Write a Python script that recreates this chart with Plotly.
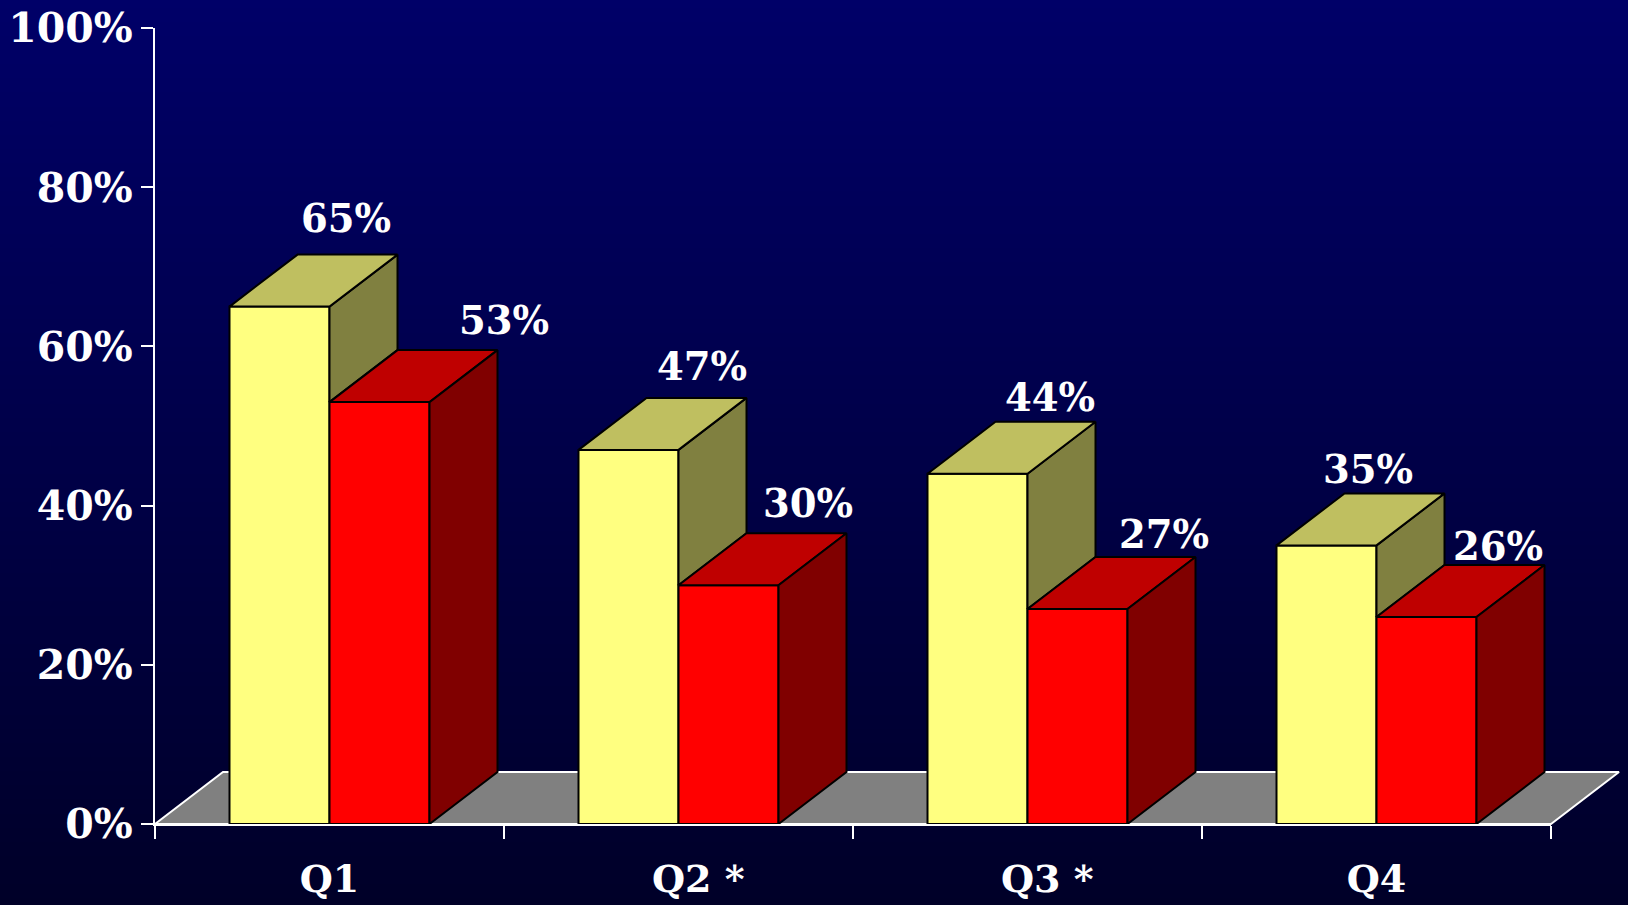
import plotly.graph_objects as go

# ---- data ----
categories = ["Q1", "Q2 *", "Q3 *", "Q4"]
yellow_values = [65, 47, 44, 35]
red_values = [53, 30, 27, 26]
y_ticks = [0, 20, 40, 60, 80, 100]
y_tick_labels = ["0%", "20%", "40%", "60%", "80%", "100%"]

# ---- layout geometry (px on the 1628x905 page) ----
W, H = 1628, 905
PL, PR, PT, PB = 155, 1551, 28, 824
UX = (PR - PL) / 4.0          # px per category
UY = (PB - PT) / 100.0        # px per percent
BAR = 100 / UX                # bar width, category units
DX = 68 / UX                  # 3-D depth, category units
DY = 52 / UY                  # 3-D depth, percent units
X0, X1 = -0.5, 3.5

# hand-placed label offsets from the front-top centre of each bar (px)
yellow_shift = [(66, 88), (73, 83), (72, 76), (41, 76)]
red_shift = [(124, 82), (79, 82), (86, 75), (71, 71)]

TICK_FONT = dict(family="DejaVu Serif", size=41, color="white", weight=700)
CAT_FONT = dict(family="DejaVu Serif", size=38, color="white", weight=700)
LABEL_FONT = dict(family="DejaVu Serif", size=38.5, color="white", weight=700)
EDGE = dict(color="black", width=2)

# the starred labels keep "Qn" centred under the group, so pad them on the left
tick_text = [("\u00a0\u00a0\u00a0" + c) if "*" in c else c for c in categories]

fig = go.Figure()

# background gradient + floor live on a full-page subplot below the main one
bx0 = X0 - PL / UX
bx1 = X1 + (W - PR) / UX
by0 = -(H - PB) / UY
by1 = 100 + PT / UY
fig.add_trace(go.Heatmap(
    x=[bx0, bx1], y=[by0, by1], z=[[0, 0], [1, 1]], zsmooth="best",
    colorscale=[[0, "#000028"], [1, "#000068"]], showscale=False,
    hoverinfo="skip", xaxis="x", yaxis="y"))
fig.add_trace(go.Scatter(
    x=[X0, X1, X1 + DX, X0 + DX, X0], y=[0, 0, DY, DY, 0],
    mode="lines", fill="toself", fillcolor="#808080",
    line=dict(color="white", width=2), hoverinfo="skip",
    xaxis="x", yaxis="y"))

# front faces
fig.add_trace(go.Bar(x=list(range(4)), y=yellow_values, width=BAR, offset=-BAR,
                     marker=dict(color="#FFFF80", line=EDGE), hoverinfo="skip",
                     xaxis="x2", yaxis="y2"))
fig.add_trace(go.Bar(x=list(range(4)), y=red_values, width=BAR, offset=0,
                     marker=dict(color="#FF0000", line=EDGE), hoverinfo="skip",
                     xaxis="x2", yaxis="y2"))


def poly(points_list, color):
    xs, ys = [], []
    for pts in points_list:
        xs += [p[0] for p in pts] + [pts[0][0], None]
        ys += [p[1] for p in pts] + [pts[0][1], None]
    fig.add_trace(go.Scatter(x=xs, y=ys, mode="lines", fill="toself",
                             fillcolor=color, line=EDGE, cliponaxis=False,
                             hoverinfo="skip", xaxis="x2", yaxis="y2"))


# side of yellow is only visible above the red box in front of it
poly([[(i, a), (i + DX, a + DY), (i + DX, b + DY), (i, b)]
      for i, (a, b) in enumerate(zip(yellow_values, red_values))], "#808040")
poly([[(i - BAR, a), (i, a), (i + DX, a + DY), (i - BAR + DX, a + DY)]
      for i, a in enumerate(yellow_values)], "#BFBF60")
poly([[(i, b), (i + BAR, b), (i + BAR + DX, b + DY), (i + DX, b + DY)]
      for i, b in enumerate(red_values)], "#BF0000")
poly([[(i + BAR, 0), (i + BAR + DX, DY), (i + BAR + DX, b + DY), (i + BAR, b)]
      for i, b in enumerate(red_values)], "#800000")

annotations = []
for i in range(4):
    for val, shift, cx in ((yellow_values[i], yellow_shift[i], i - BAR / 2),
                           (red_values[i], red_shift[i], i + BAR / 2)):
        annotations.append(dict(x=cx, y=val, xref="x2", yref="y2", text=f"{val}%",
                                showarrow=False, xshift=shift[0], yshift=shift[1],
                                font=LABEL_FONT, xanchor="center", yanchor="middle"))

fig.update_layout(
    width=W, height=H, margin=dict(l=0, r=0, t=0, b=0), template="none",
    paper_bgcolor="#000028", plot_bgcolor="rgba(0,0,0,0)",
    showlegend=False, barmode="overlay", annotations=annotations,
    xaxis2=dict(domain=[PL / W, PR / W], range=[X0, X1], automargin=False,
                anchor="y2", tickmode="array", tickvals=list(range(4)),
                ticktext=tick_text, ticks="", ticklabelstandoff=20,
                tickfont=CAT_FONT, showgrid=False, zeroline=False,
                showline=True, linecolor="white", linewidth=2,
                minor=dict(tickmode="array", tickvals=[-0.5, 0.5, 1.5, 2.5, 3.5],
                           ticks="outside", ticklen=13, tickwidth=2,
                           tickcolor="white", showgrid=False)),
    yaxis2=dict(domain=[(H - PB) / H, (H - PT) / H], range=[0, 100], automargin=False,
                anchor="x2", tickmode="array", tickvals=y_ticks,
                ticktext=y_tick_labels, ticks="outside", ticklen=12, tickwidth=2,
                tickcolor="white", tickfont=TICK_FONT, ticklabelstandoff=0,
                showgrid=False, zeroline=False,
                showline=True, linecolor="white", linewidth=2),
    xaxis=dict(domain=[0, 1], range=[bx0, bx1], visible=False, anchor="y", automargin=False),
    yaxis=dict(domain=[0, 1], range=[by0, by1], visible=False, anchor="x", automargin=False),
)

fig.write_html("out.html", config={"displayModeBar": False},
               post_script="document.body.style.margin='0';document.body.style.background='#000028';")
